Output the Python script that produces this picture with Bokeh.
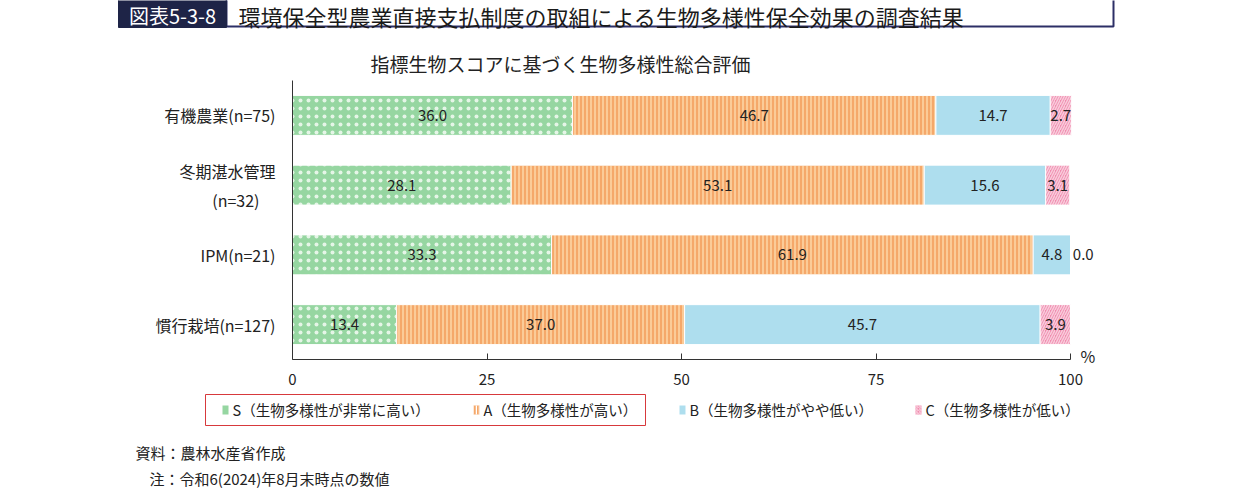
from bokeh.plotting import figure
from bokeh.models import Range1d, ColumnDataSource, FixedTicker
from bokeh.core.properties import value
from bokeh.embed import file_html
from bokeh.resources import INLINE

# ---------------- data ----------------
categories = ["有機農業(n=75)", "冬期湛水管理\n(n=32)\u3000", "IPM(n=21)", "慣行栽培(n=127)"]
s_vals = [36.0, 28.1, 33.3, 13.4]
a_vals = [46.7, 53.1, 61.9, 37.0]
b_vals = [14.7, 15.6, 4.8, 45.7]
c_vals = [2.7, 3.1, 0.0, 3.9]
series_keys = ["S", "A", "B", "C"]
series_names = ["S（生物多様性が非常に高い）", "A（生物多様性が高い）",
                "B（生物多様性がやや低い）", "C（生物多様性が低い）"]
x_ticks = [0, 25, 50, 75, 100]
chart_title = "指標生物スコアに基づく生物多様性総合評価"
fig_no = "図表5-3-8"
header = "環境保全型農業直接支払制度の取組による生物多様性保全効果の調査結果"
notes = ["資料：農林水産省作成", "注：令和6(2024)年8月末時点の数値"]
unit = "%"

# ---------------- style / layout ----------------
FONT = "Noto Sans CJK JP"
colors = ["#96D6A1", "#F5A86A", "#AEDEEE", "#F08CAF"]
hatch_patterns = ["dot", "vertical_line", " ", "right_diagonal_line"]
hatch_colors = ["white", "#FBCB98", "white", "white"]
hatch_scales = [8, 4, 8, 5]
hatch_weights = [0.7, 2.0, 1.0, 1.5]
hatch_alphas = [0.75, 1.0, 0.0, 0.55]
# legend swatches
sw_patterns = [" ", "vertical_line", " ", "right_diagonal_line"]
sw_scales = [4, 3, 4, 3]
sw_weights = [1.0, 1.5, 1.0, 1.0]
sw_alphas = [0.0, 1.0, 0.0, 0.6]
TXT = "#222222"
AX = "#333333"
W, H = 1241, 500
AXIS_X_PX, AXIS_Y_PX = 292, 359      # pixel position of x=0 and of the x axis line
PX_PER_X = 7.78                       # pixels per percent
PX_PER_ROW = 69.75                    # pixels per category row
BAR_H = 0.573

n = len(categories)
ypos = [n - 1 - i for i in range(n)]   # top row first

x_start = -AXIS_X_PX / PX_PER_X
x_end = (W - AXIS_X_PX) / PX_PER_X
y_low = -0.5
y_start = y_low - (H - AXIS_Y_PX) / PX_PER_ROW
y_end = y_low + AXIS_Y_PX / PX_PER_ROW

p = figure(width=W, height=H, x_range=Range1d(x_start, x_end), y_range=Range1d(y_start, y_end),
           output_backend="svg", toolbar_location=None,
           min_border=0, min_border_left=0, min_border_right=0,
           min_border_top=0, min_border_bottom=0)
p.outline_line_color = None
p.xgrid.grid_line_color = None
p.ygrid.grid_line_color = None
p.extra_x_ranges = {"px": Range1d(0, W)}
p.extra_y_ranges = {"py": Range1d(H, 0)}

src = ColumnDataSource(dict(y=ypos, S=s_vals, A=a_vals, B=b_vals, C=c_vals))
renderers = p.hbar_stack(series_keys, y="y", height=BAR_H, source=src,
                         color=colors, line_color="white", line_width=1,
                         hatch_pattern=hatch_patterns, hatch_color=hatch_colors,
                         hatch_scale=hatch_scales, hatch_weight=hatch_weights,
                         hatch_alpha=hatch_alphas)

# value labels
lx, ly, lt, la = [], [], [], []
for i in range(n):
    cum = 0.0
    for vals in (s_vals, a_vals, b_vals, c_vals):
        v = vals[i]
        if v == 0:
            lx.append(cum + 0.3)
            la.append("left")
        else:
            lx.append(cum + v / 2)
            la.append("center")
        ly.append(ypos[i])
        lt.append(f"{v:.1f}")
        cum += v
lsrc = ColumnDataSource(dict(x=lx, y=ly, t=lt, a=la))
p.text(x="x", y="y", text="t", text_align="a", source=lsrc, text_baseline="middle",
       text_font=value(FONT), text_font_size="15px", text_color=TXT)

# axes (fixed inside the full-canvas frame)
xa = p.xaxis[0]
xa.fixed_location = y_low
xa.bounds = (0, 100)
xa.ticker = FixedTicker(ticks=x_ticks)
xa.major_tick_in = 6
xa.major_tick_out = 0
xa.minor_tick_line_color = None
xa.axis_line_color = AX
xa.major_tick_line_color = AX
xa.major_label_text_font = FONT
xa.major_label_text_font_size = "15px"
xa.major_label_text_color = TXT
xa.major_label_standoff = 14

ya = p.yaxis[0]
ya.fixed_location = 0
ya.bounds = (y_low, n - 0.5)
ya.ticker = FixedTicker(ticks=ypos)
ya.major_label_overrides = {yp: c for yp, c in zip(ypos, categories)}
ya.major_tick_line_color = None
ya.minor_tick_line_color = None
ya.axis_line_color = AX
ya.major_label_text_font = FONT
ya.major_label_text_font_size = "16px"
ya.major_label_text_color = TXT
ya.major_label_standoff = 11


def txt(text, x, y, size, align="left", color=TXT):
    p.text(x=[x], y=[y], text=[text], text_font=value(FONT), text_font_size=size,
           text_align=align, text_baseline="middle", text_color=color,
           x_range_name="px", y_range_name="py")


def box(l, r, t, b, **kw):
    p.quad(left=[l], right=[r], top=[t], bottom=[b], x_range_name="px", y_range_name="py", **kw)


# header
box(226, 1113, -6, 26, fill_color="white", line_color="#2C2F66", line_width=2)
box(118, 226, -6, 27, fill_color="#1E2447", line_color="#1E2447", line_width=1)
txt(fig_no, 172, 15, "20px", align="center", color="white")
txt(header, 238, 15, "22px", color="#1a1a1a")
txt(chart_title, 560, 63, "19px", align="center")
txt(unit, 1080, 355, "16px")

# legend
box(205, 645, 394, 425, fill_alpha=0, line_color="#D7393C", line_width=1)
legend_x = [222, 473, 679, 915]
for lxp, name, c, hp, hs, hw, ha in zip(legend_x, series_names, colors, sw_patterns,
                                        sw_scales, sw_weights, sw_alphas):
    box(lxp, lxp + 6, 405, 414, fill_color=c, line_color=None, hatch_pattern=hp,
        hatch_color="white", hatch_scale=hs, hatch_weight=hw, hatch_alpha=ha)
    txt(name, lxp + 10, 409, "14.5px")

# notes
txt(notes[0], 135, 452, "15px")
txt(notes[1], 149, 478, "15px")

open("out.html", "w").write(file_html(p, INLINE))
